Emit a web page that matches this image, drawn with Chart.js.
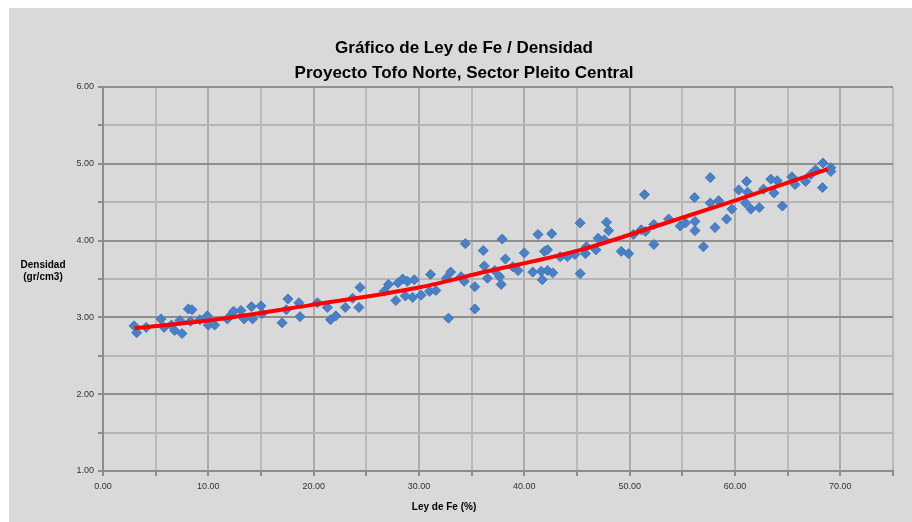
<!DOCTYPE html>
<html lang="es">
<head>
<meta charset="utf-8">
<title>Gráfico de Ley de Fe / Densidad</title>
<script src="https://cdn.jsdelivr.net/npm/chart.js@4.4.1/dist/chart.umd.min.js"></script>
<style>
  html, body { margin: 0; padding: 0; background: #ffffff; }
  #densityChart { display: block; }
</style>
</head>
<body>
<canvas id="densityChart" width="912" height="522"></canvas>
<script>
// Muestras: Ley de Fe (%) vs Densidad (gr/cm3)
const leyFe = [
  2.95, 3.2, 4.1, 5.5, 5.8, 6.5, 6.8, 7.3, 7.5, 8.1,
  8.45, 8.3, 9.2, 9.9, 10.0, 10.6, 11.8, 12.0, 12.4, 13.1,
  13.4, 14.1, 14.2, 15.0, 15.1, 17.0, 17.55, 17.4, 18.6, 18.7,
  20.35, 21.3, 21.6, 22.1, 23.0, 23.7, 24.3, 24.4, 26.7, 27.1,
  27.8, 28.0, 28.45, 28.7, 28.9, 29.4, 29.55, 30.2, 31.0, 31.1,
  31.6, 32.6, 32.8, 33.0, 34.0, 34.3, 34.4, 35.3, 35.3, 36.1,
  36.2, 36.5, 37.2, 37.65, 37.8, 37.9, 38.2, 38.9, 39.4, 40.0,
  40.8, 41.3, 41.6, 41.7, 41.9, 42.2, 42.2, 42.6, 42.7, 43.4,
  44.1, 44.8, 45.3, 45.3, 45.8, 45.9, 46.8, 47.0, 47.6, 47.8,
  48.0, 49.2, 49.9, 50.35, 51.1, 51.4, 51.5, 52.3, 52.3, 53.7,
  54.8, 55.3, 56.16, 56.2, 56.2, 57.0, 57.65, 57.65, 58.1, 58.45,
  59.2, 59.7, 60.35, 61.0, 61.1, 61.2, 61.5, 62.3, 62.7, 63.4,
  63.7, 64.0, 64.5, 65.4, 65.7, 66.7, 67.2, 67.65, 68.3, 68.35,
  69.1, 69.1
];
const densidad = [
  2.89, 2.80, 2.87, 2.98, 2.87, 2.90, 2.83, 2.96, 2.79, 3.11,
  3.10, 2.95, 2.97, 3.02, 2.90, 2.90, 2.98, 3.01, 3.08, 3.09,
  2.98, 3.14, 2.98, 3.15, 3.05, 2.93, 3.24, 3.10, 3.19, 3.01,
  3.19, 3.13, 2.97, 3.02, 3.13, 3.25, 3.13, 3.39, 3.34, 3.43,
  3.22, 3.45, 3.50, 3.28, 3.47, 3.26, 3.49, 3.29, 3.34, 3.56,
  3.35, 3.51, 2.99, 3.59, 3.53, 3.47, 3.96, 3.40, 3.11, 3.87,
  3.67, 3.51, 3.61, 3.53, 3.43, 4.02, 3.76, 3.66, 3.61, 3.84,
  3.59, 4.08, 3.60, 3.49, 3.86, 3.88, 3.61, 4.09, 3.58, 3.79,
  3.79, 3.82, 4.23, 3.57, 3.83, 3.92, 3.88, 4.03, 4.01, 4.24,
  4.13, 3.86, 3.83, 4.08, 4.14, 4.60, 4.12, 3.95, 4.21, 4.28,
  4.19, 4.23, 4.56, 4.25, 4.13, 3.92, 4.82, 4.49, 4.17, 4.52,
  4.28, 4.41, 4.66, 4.49, 4.77, 4.63, 4.41, 4.43, 4.67, 4.80,
  4.62, 4.78, 4.45, 4.83, 4.73, 4.77, 4.86, 4.92, 4.69, 5.01,
  4.95, 4.90
];

// Linea de tendencia (roja)
const trendX = [3.0, 10.0, 19.7, 30.0, 36.5, 45.1, 53.0, 60.2, 68.8];
const trendY = [2.86, 2.96, 3.16, 3.39, 3.60, 3.87, 4.21, 4.53, 4.93];

const titleLines = ["Gráfico de Ley de Fe / Densidad", "Proyecto Tofo Norte, Sector Pleito Central"];
const yTitleLines = ["Densidad", "(gr/cm3)"];
const xTitle = "Ley de Fe (%)";

const fontFamily = "'Liberation Sans', Arial, sans-serif";

const points = leyFe.map((x, i) => ({ x: x, y: densidad[i] }));
const trend = trendX.map((x, i) => ({ x: x, y: trendY[i] }));

// fondo gris, titulo y titulos de ejes
const frame = {
  id: "frame",
  beforeDraw(chart) {
    const ctx = chart.ctx;
    ctx.save();
    ctx.fillStyle = "#d9d9d9";
    ctx.fillRect(9, 8, chart.width - 9, chart.height - 8);
    ctx.restore();
  },
  afterDraw(chart) {
    const ctx = chart.ctx;
    ctx.save();
    ctx.fillStyle = "#000000";
    ctx.textAlign = "center";
    ctx.textBaseline = "middle";
    ctx.font = "bold 17px " + fontFamily;
    ctx.fillText(titleLines[0], 464, 48);
    ctx.fillText(titleLines[1], 464, 73);
    ctx.font = "bold 10px " + fontFamily;
    ctx.fillText(yTitleLines[0], 43, 265);
    ctx.fillText(yTitleLines[1], 43, 277);
    ctx.fillText(xTitle, 444, 507);
    ctx.restore();
  }
};

const ctx = document.getElementById("densityChart").getContext("2d");

new Chart(ctx, {
  type: "scatter",
  data: {
    datasets: [
      {
        type: "line",
        label: "Tendencia",
        data: trend,
        borderColor: "#ff0000",
        borderWidth: 4,
        pointRadius: 0,
        cubicInterpolationMode: "monotone",
        fill: false,
        order: 0
      },
      {
        label: "Densidad",
        data: points,
        pointStyle: "rectRot",
        pointRadius: 5,
        backgroundColor: "#4a80c6",
        borderColor: "#4077bd",
        borderWidth: 1,
        order: 1
      }
    ]
  },
  options: {
    responsive: false,
    animation: false,
    layout: { padding: { left: 0, right: 19, top: 87, bottom: 0 } },
    plugins: {
      legend: { display: false },
      tooltip: { enabled: false },
      title: { display: false }
    },
    scales: {
      x: {
        type: "linear",
        min: 0,
        max: 75,
        afterFit: (scale) => { scale.height = 51; },
        ticks: {
          stepSize: 5,
          color: "#333333",
          font: { family: fontFamily, size: 9 },
          padding: 5,
          maxRotation: 0,
          autoSkip: false,
          callback: (v) => (v % 10 === 0 ? Number(v).toFixed(2) : "")
        },
        grid: {
          color: (c) => (c.tick && c.tick.value % 10 === 0 ? "#ababab" : "#b9b9b9"),
          lineWidth: 2,
          tickLength: 5,
          tickColor: "#8c8c8c"
        },
        border: { color: "#8c8c8c", width: 2 }
      },
      y: {
        type: "linear",
        min: 1,
        max: 6,
        afterFit: (scale) => { scale.width = 103; },
        ticks: {
          stepSize: 0.5,
          color: "#333333",
          font: { family: fontFamily, size: 9 },
          padding: 4,
          autoSkip: false,
          callback: (v) => (v % 1 === 0 ? Number(v).toFixed(2) : "")
        },
        grid: {
          color: (c) => (c.tick && c.tick.value % 1 === 0 ? "#8f8f8f" : "#b6b6b6"),
          lineWidth: 2,
          tickLength: 5,
          tickColor: "#8c8c8c"
        },
        border: { color: "#8c8c8c", width: 2 }
      }
    }
  },
  plugins: [frame]
});
</script>
</body>
</html>
